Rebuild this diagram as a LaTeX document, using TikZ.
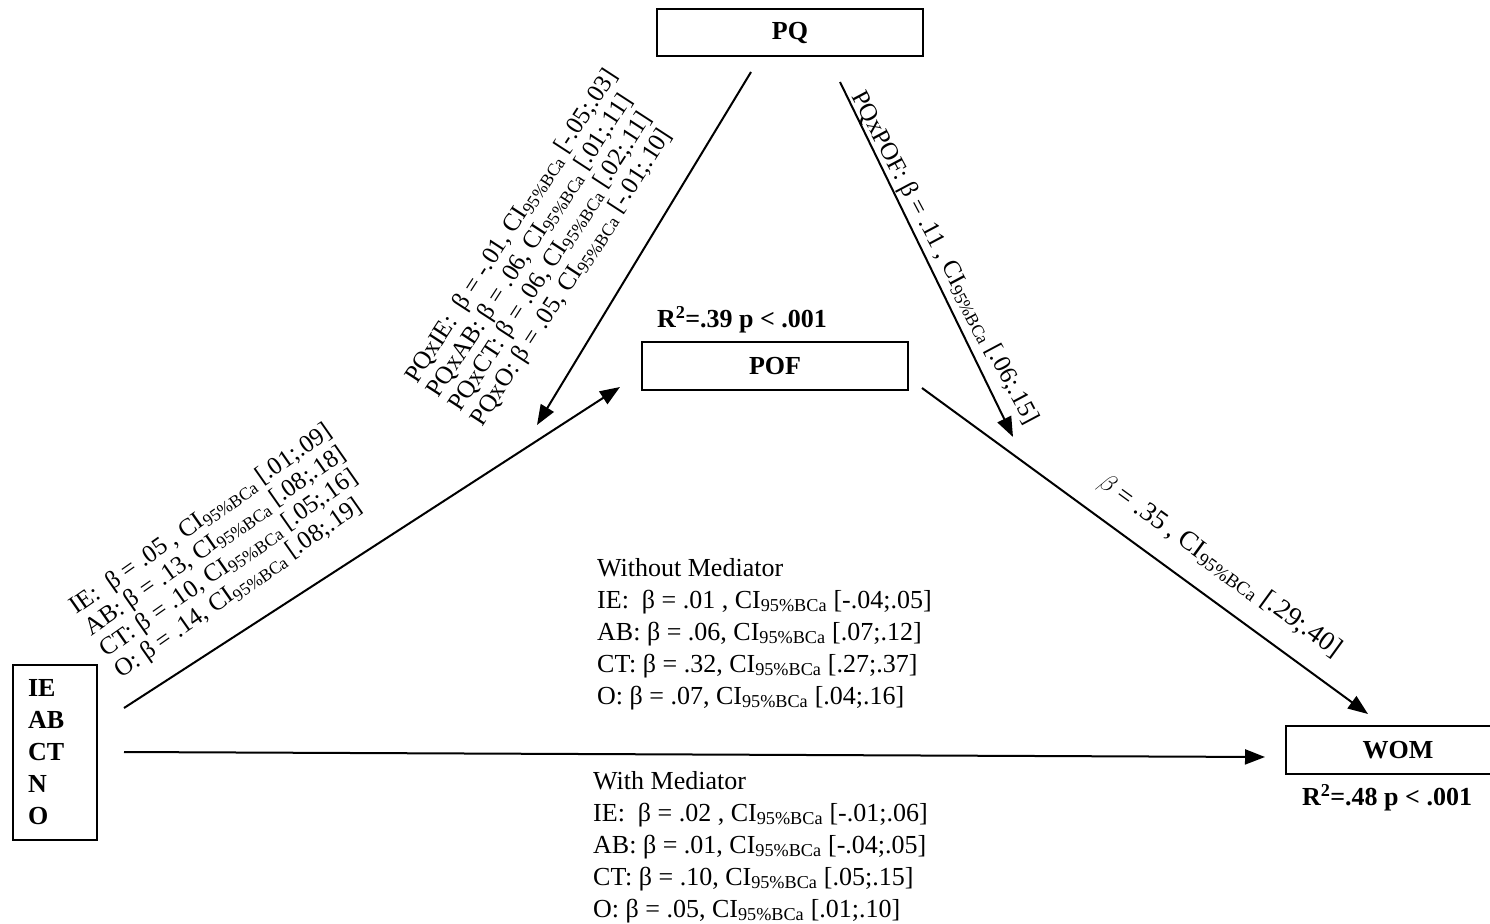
\documentclass[tikz,border=0pt]{standalone}
\usepackage{fontspec}
\setmainfont{Liberation Serif}
\usetikzlibrary{arrows.meta}
\newcommand{\cisub}{CI\textsubscript{95\%BCa}}

\begin{document}
\begin{tikzpicture}[x=1pt,y=-1pt]
	\tikzset{every node/.style={font=\fontsize{26}{32}\selectfont}}
	\tikzset{var/.style={draw,line width=2pt,font=\fontsize{26}{32}\selectfont\bfseries,minimum height=48pt,inner sep=0pt}}
	\tikzset{effect/.style={line width=2pt,-{Triangle[length=20pt,width=15pt]}}}
	\tikzset{coef/.style={align=left,inner sep=0pt,font=\fontsize{25}{26}\selectfont}}
	\tikzset{block/.style={align=left,inner sep=0pt,anchor=west}}
	%\tikzset{every node/.append style={draw=red}}
	\useasboundingbox (0,0) rectangle (1490,923);
	\node[var,minimum width=266pt,minimum height=47pt] (pq) at (790,33) {PQ};
	\node[var,minimum width=266pt] (pof) at (775,366) {POF};
	\node[var,minimum width=224pt] (wom) at (1398,750) {WOM};
	\node[var,align=left,text width=54pt,inner xsep=15pt,minimum height=175pt] (pred) at (55,752) {IE\\AB\\CT\\N\\O};
	\node[font=\fontsize{26}{32}\selectfont\bfseries] (pofr) at (742,320) {R\textsuperscript{2}=.39 p < .001};
	\node[font=\fontsize{26}{32}\selectfont\bfseries] (womr) at (1387,798) {R\textsuperscript{2}=.48 p < .001};
	\coordinate (predup) at (124,708);
	\coordinate (pofin) at (620,387);
	\coordinate (predmid) at (124,752);
	\coordinate (womin) at (1265,757);
	\coordinate (pqleft) at (751,72);
	\coordinate (modx) at (537,425);
	\coordinate (pqright) at (840,82);
	\coordinate (modm) at (1013,437);
	\coordinate (pofout) at (922,388);
	\coordinate (womtop) at (1368,714);
	\draw[effect] (predup) -- (pofin);
	\draw[effect] (predmid) -- (womin);
	\draw[effect] (pqleft) -- (modx);
	\draw[effect] (pqright) -- (modm);
	\draw[effect] (pofout) -- (womtop);
	\node[coef,rotate=35] (apath) at (224,552) {IE:\ \ β = .05 , \cisub{} [.01;.09]\\AB: β = .13, \cisub{} [.08;.18]\\CT: β = .10, \cisub{} [.05;.16]\\O: β = .14, \cisub{} [.08;.19]};
	\node[coef,rotate=57] (modpath) at (545,248) {PQxIE:\ \ β = -.01, \cisub{} [-.05;.03]\\PQxAB: β = .06, \cisub{} [.01;.11]\\PQxCT: β = .06, \cisub{} [.02;.11]\\PQxO: β = .05, \cisub{} [-.01;.10]};
	\node[coef,rotate=-62] (modbpath) at (944,258) {PQxPOF: β = .11 , \cisub{} [.06;.15]};
	\node[coef,rotate=-36,font=\fontsize{27}{27}\selectfont] (bpath) at (1220,566) {$\beta$ = .35 , \cisub{} [.29;.40]};
	\node[block] (direct) at (597,634) {Without Mediator\\IE:\ \ β = .01 , \cisub{} [-.04;.05]\\AB: β = .06, \cisub{} [.07;.12]\\CT: β = .32, \cisub{} [.27;.37]\\O: β = .07, \cisub{} [.04;.16]};
	\node[block] (indirect) at (593,847) {With Mediator\\IE:\ \ β = .02 , \cisub{} [-.01;.06]\\AB: β = .01, \cisub{} [-.04;.05]\\CT: β = .10, \cisub{} [.05;.15]\\O: β = .05, \cisub{} [.01;.10]};
\end{tikzpicture}
\end{document}
